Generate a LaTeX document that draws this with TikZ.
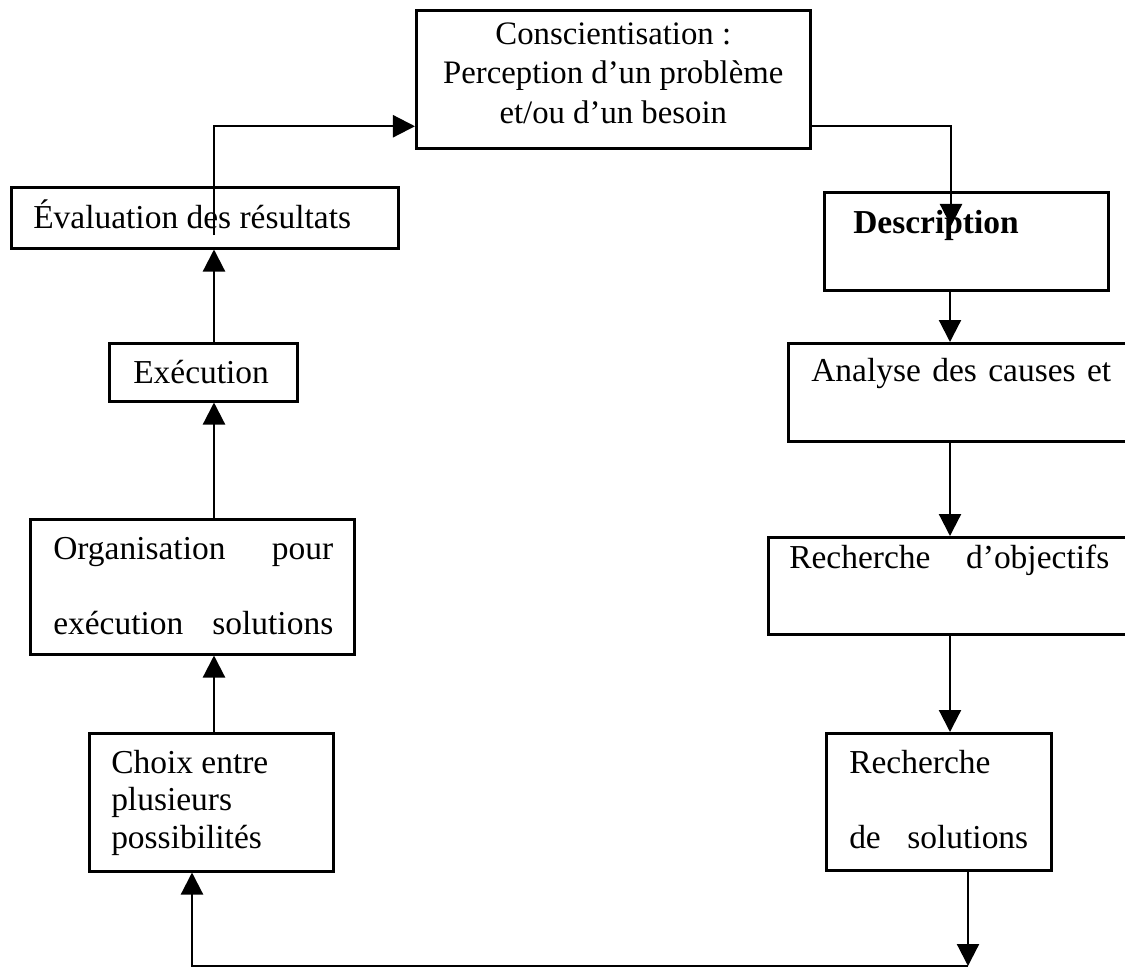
\documentclass[tikz,border=0pt]{standalone}
\usepackage{fontspec}
\setmainfont{Liberation Serif}
\usetikzlibrary{arrows.meta}
\newlength{\pxunit}
\setlength{\pxunit}{0.025cm}
% #1 width, #2 height, #3 first baseline, #4 lines
\newcommand{\boxtxt}[4]{\parbox[t][#2\pxunit][t]{#1\pxunit}{\fontsize{23.8pt}{37.5\pxunit}\selectfont\rule{0pt}{#3\pxunit}#4}}
\tikzset{
    boxsty/.style={draw,rectangle,inner sep=0pt,anchor=north west,line width=2.5\pxunit},
    arrsty/.style={-{Triangle[length=0.55cm,width=0.55cm]},line width=2.2\pxunit},
}

\begin{document}
\begin{tikzpicture}[x=\pxunit,y=-\pxunit]
  \useasboundingbox (0,0) rectangle (1125,968);
  \clip (0,0) rectangle (1125,968);

  % left column (bottom to top)
  \node[boxsty] (choix) at (88,732) {\boxtxt{244}{138}{40}{%
    \hspace*{22\pxunit}Choix entre\\
    \hspace*{22\pxunit}plusieurs\\
    \hspace*{22\pxunit}possibilités}};
  \node[boxsty] (organ) at (29,518) {\boxtxt{324}{135}{40}{%
    \hspace*{23\pxunit}\makebox[280\pxunit][s]{Organisation pour}\\[37.5\pxunit]
    \hspace*{23\pxunit}\makebox[280\pxunit][s]{exécution solutions}}};
  \node[boxsty] (exec) at (108,342) {\boxtxt{188}{58}{40}{%
    \hspace*{24\pxunit}Exécution}};
  \node[boxsty] (eval) at (10,186) {\boxtxt{387}{61}{41}{%
    \hspace*{22\pxunit}Évaluation des résultats}};

  % top
  \node[boxsty] (consc) at (415,9) {\boxtxt{394}{138}{34}{%
    \fontsize{23.3pt}{39.5\pxunit}\selectfont
    \hspace*{197\pxunit}\makebox[0pt]{Conscientisation :}\\
    \hspace*{197\pxunit}\makebox[0pt]{Perception d’un problème}\\
    \hspace*{197\pxunit}\makebox[0pt]{et/ou d’un besoin}}};

  % right column (top to bottom)
  \node[boxsty] (desc) at (823,191) {\boxtxt{284}{98}{41}{%
    \hspace*{29\pxunit}\textbf{Description}}};
  \node[boxsty] (analyse) at (787,342) {\boxtxt{348}{98}{38}{%
    \hspace*{23\pxunit}\makebox[300\pxunit][s]{Analyse des causes et}}};
  \node[boxsty] (objectifs) at (767,536) {\boxtxt{368}{97}{31}{%
    \hspace*{21\pxunit}\makebox[320\pxunit][s]{Recherche d’objectifs}}};
  \node[boxsty] (solutions) at (825,732) {\boxtxt{225}{137}{40}{%
    \hspace*{23\pxunit}Recherche\\[37.5\pxunit]
    \hspace*{23\pxunit}\makebox[179\pxunit][s]{de solutions}}};

  \coordinate (rcol) at (950,0);
  \coordinate (lcol) at (214,0);
  \coordinate (desctip) at (951,226);
  \coordinate (evalin) at (214,235);
  \coordinate (botright) at (968,966);
  \coordinate (botleft) at (192,966);

  \draw[arrsty] ([yshift=-47\pxunit]consc.east) -| (desctip);
  \draw[arrsty] (desc.south -| rcol) -- (analyse.north -| rcol);
  \draw[arrsty] (analyse.south -| rcol) -- (objectifs.north -| rcol);
  \draw[arrsty] (objectifs.south -| rcol) -- (solutions.north -| rcol);
  \draw[arrsty] (solutions.south -| botright) -- (botright);
  \draw[arrsty] (botright) -- (botleft) -- (choix.south -| botleft);
  \draw[arrsty] (choix.north -| lcol) -- (organ.south -| lcol);
  \draw[arrsty] (organ.north -| lcol) -- (exec.south -| lcol);
  \draw[arrsty] (exec.north -| lcol) -- (eval.south -| lcol);
  \draw[arrsty] (evalin) |- ([yshift=-47\pxunit]consc.west);
\end{tikzpicture}
\end{document}
